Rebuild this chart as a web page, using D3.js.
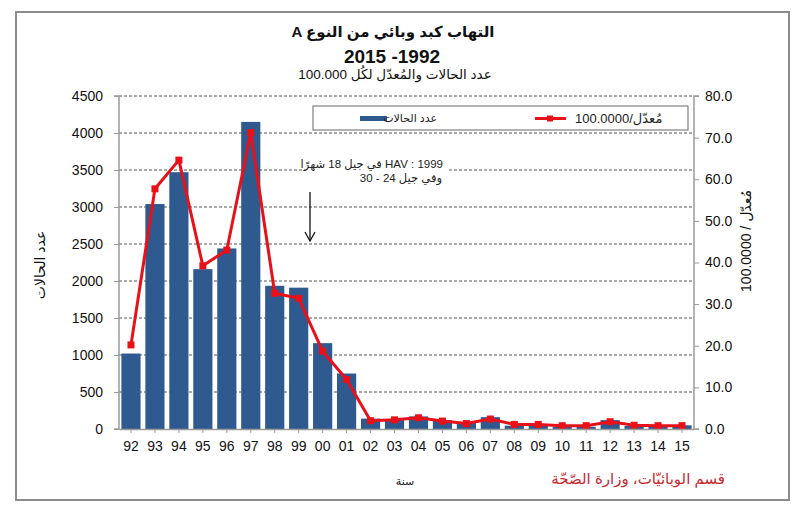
<!DOCTYPE html>
<html><head><meta charset="utf-8">
<script src="https://cdn.jsdelivr.net/npm/d3@7"></script>
<style>
html,body{margin:0;padding:0;background:#fff;}
svg text{font-family:Arial,"Liberation Sans","DejaVu Sans",sans-serif;}
</style></head>
<body>
<svg id="chart" width="800" height="515"></svg>
<script>
const years = ["92","93","94","95","96","97","98","99","00","01","02","03","04","05","06","07","08","09","10","11","12","13","14","15"];
const cases = [1020,3040,3470,2160,2440,4150,1935,1910,1160,750,140,130,170,120,80,160,45,45,30,30,120,40,30,50];
const rates = [20.2,57.7,64.6,39.2,43.0,71.2,32.6,31.4,18.7,11.9,2.0,2.2,2.7,1.9,1.3,2.4,1.1,1.1,0.8,0.8,1.75,0.9,0.8,0.8];
const leftTicks = [0,500,1000,1500,2000,2500,3000,3500,4000,4500];
const rightTicks = [0,10,20,30,40,50,60,70,80];

const svg = d3.select("#chart");
const L = 119, R = 694, T = 96, B = 429;
const barColor = "#2f5a8f", lineColor = "#e8111a", axisColor = "#9a9a9a";

// outer border
svg.append("rect").attr("x",16).attr("y",12).attr("width",773).attr("height",488)
  .attr("fill","none").attr("stroke","#8c8c8c").attr("stroke-width",2);

const x = d3.scaleBand().domain(years).range([L,R]).paddingInner(0.2).paddingOuter(0.1);
const yL = d3.scaleLinear().domain([0,4500]).range([B,T]);
const yR = d3.scaleLinear().domain([0,80]).range([B,T]);

// gridlines
svg.append("g").selectAll("line").data(leftTicks.filter(d=>d>0)).join("line")
  .attr("x1",L).attr("x2",R).attr("y1",d=>yL(d)).attr("y2",d=>yL(d))
  .attr("stroke","#555").attr("stroke-width",1).attr("stroke-dasharray","3,2");

// bars
svg.append("g").selectAll("rect").data(years).join("rect")
  .attr("x",d=>x(d)).attr("width",x.bandwidth())
  .attr("y",(d,i)=>yL(cases[i])).attr("height",(d,i)=>B-yL(cases[i]))
  .attr("fill",barColor);

// line
const line = d3.line().x((d,i)=>x(years[i])+x.bandwidth()/2).y(d=>yR(d));
svg.append("path").datum(rates).attr("d",line).attr("fill","none")
  .attr("stroke",lineColor).attr("stroke-width",3).attr("stroke-linejoin","round");
svg.append("g").selectAll("rect").data(rates).join("rect")
  .attr("x",(d,i)=>x(years[i])+x.bandwidth()/2-3.5).attr("y",d=>yR(d)-3.5)
  .attr("width",7).attr("height",7).attr("fill",lineColor);

// axes
const fs = "14px";
const gL = svg.append("g").attr("transform",`translate(${L},0)`)
  .call(d3.axisLeft(yL).tickValues(leftTicks).tickSize(5).tickPadding(11).tickFormat(d3.format("d")));
const gR = svg.append("g").attr("transform",`translate(${R},0)`)
  .call(d3.axisRight(yR).tickValues(rightTicks).tickSize(5).tickPadding(6).tickFormat(d3.format(".1f")));
const gB = svg.append("g").attr("transform",`translate(0,${B})`)
  .call(d3.axisBottom(x).tickSize(4).tickPadding(8).tickSizeOuter(0));
[gL,gR,gB].forEach(g=>{
  g.select(".domain").attr("stroke",axisColor).attr("stroke-width",1.5);
  g.selectAll(".tick line").attr("stroke",axisColor);
  g.selectAll(".tick text").attr("fill","#111").style("font-size",fs);
});
gL.select(".domain").attr("d",`M-5,${T}H0V${B}H-5`);
gR.select(".domain").attr("d",`M5,${T}H0V${B}H5`);

// legend
const lg = svg.append("g");
lg.append("rect").attr("x",313).attr("y",106).attr("width",375).attr("height",24)
  .attr("fill","#fff").attr("stroke","#666").attr("stroke-width",1);
lg.append("rect").attr("x",360).attr("y",116).attr("width",27).attr("height",5).attr("fill",barColor);
lg.append("text").attr("x",437).attr("y",122).attr("text-anchor","end").style("font-size","11px").attr("fill","#222").text("عدد الحالات");
lg.append("line").attr("x1",535).attr("x2",566).attr("y1",118.5).attr("y2",118.5).attr("stroke",lineColor).attr("stroke-width",3);
lg.append("rect").attr("x",547).attr("y",115.5).attr("width",6).attr("height",6).attr("fill",lineColor);
lg.append("text").attr("x",575).attr("y",123).style("font-size","13px").attr("fill","#222").text("100.0000/مُعدّل");

// annotation
svg.append("rect").attr("x",305).attr("y",155).attr("width",142).attr("height",31).attr("fill","#fff");
svg.append("text").attr("x",443).attr("y",168).attr("text-anchor","end").style("font-size","11.5px").attr("fill","#222")
  .text("في جيل 18 شهرًا HAV : 1999");
svg.append("text").attr("x",442).attr("y",182).attr("text-anchor","end").style("font-size","11.5px").attr("fill","#222")
  .text("وفي جيل 24 - 30");
svg.append("line").attr("x1",310).attr("x2",310).attr("y1",192).attr("y2",241).attr("stroke","#111").attr("stroke-width",1.3);
svg.append("path").attr("d","M305,232L310,241L315,232").attr("fill","none").attr("stroke","#111").attr("stroke-width",1.3);

// titles
svg.append("text").attr("x",393).attr("y",37).attr("text-anchor","middle").style("font-size","15px").style("font-weight","bold").attr("fill","#111")
  .text("A  التهاب كبد وبائي من النوع");
svg.append("text").attr("x",392).attr("y",63).attr("text-anchor","middle").style("font-size","19px").style("font-weight","bold").attr("fill","#111")
  .text("2015 -1992");
svg.append("text").attr("x",395).attr("y",79).attr("text-anchor","middle").style("font-size","13.5px").attr("fill","#111")
  .text("100.000 عدد الحالات والمُعدّل لكُل");

// axis titles
svg.append("text").attr("transform","translate(45,265) rotate(-90)").attr("text-anchor","middle").style("font-size","14px").attr("fill","#111")
  .text("عدد الحالات");
svg.append("text").attr("transform","translate(751,241) rotate(-90)").attr("text-anchor","middle").style("font-size","14px").attr("fill","#111")
  .text("100.0000 / مُعدّل");
svg.append("text").attr("x",405).attr("y",485).attr("text-anchor","middle").style("font-size","11px").attr("fill","#222").text("سنة");
svg.append("text").attr("x",725).attr("y",484).attr("text-anchor","end").style("font-size","15px").attr("fill","#c62a2f")
  .text("قسم الوبائيّات، وزارة الصّحّة");
</script>
</body></html>
